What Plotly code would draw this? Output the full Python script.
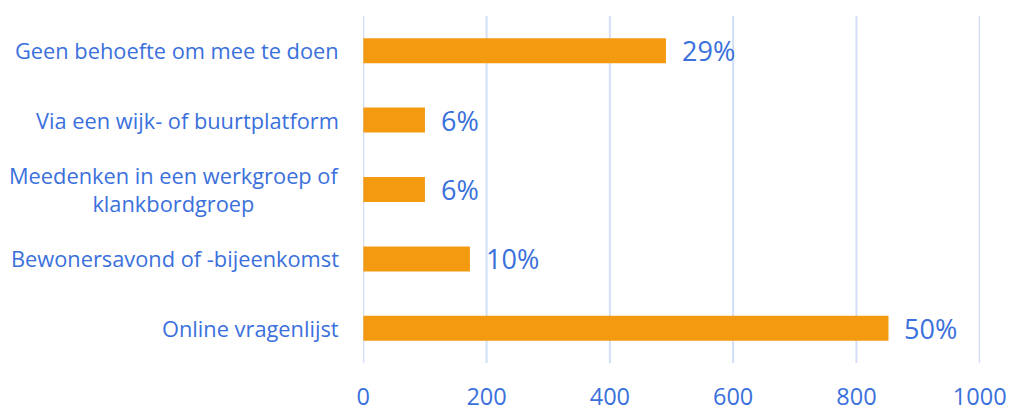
import plotly.graph_objects as go

categories = [
    "Online vragenlijst",
    "Bewonersavond of -bijeenkomst",
    "Meedenken in een werkgroep of<br>klankbordgroep",
    "Via een wijk- of buurtplatform",
    "Geen behoefte om mee te doen",
]
values = [852, 173, 100, 100, 491]
pct_labels = ["50%", "10%", "6%", "6%", "29%"]
x_ticks = [0, 200, 400, 600, 800, 1000]

BLUE = "#3A70DC"
ORANGE = "#F39A11"
GRID = "#D3DFF6"

fig = go.Figure()
fig.add_trace(go.Bar(
    x=values, y=categories, orientation="h",
    marker=dict(color=ORANGE, line=dict(width=0)),
    width=0.36,
    hoverinfo="skip",
))

for xv in x_ticks:
    fig.add_vline(x=xv, line=dict(color=GRID, width=2), layer="below")

for c, v, t in zip(categories, values, pct_labels):
    fig.add_annotation(x=v, y=c, text=t, xanchor="left", yanchor="middle",
                       xshift=14, showarrow=False,
                       font=dict(family="Open Sans", size=27, color=BLUE))
    fig.add_annotation(x=0, y=c, text=c, xanchor="right", yanchor="middle",
                       xshift=-22, showarrow=False, align="center",
                       font=dict(family="Open Sans", size=21.8, color=BLUE))

fig.update_layout(
    width=1014, height=412,
    margin=dict(l=363, r=34, t=16, b=49),
    paper_bgcolor="white", plot_bgcolor="white",
    showlegend=False,
    xaxis=dict(range=[-0.5, 1000.5], tickvals=x_ticks, showgrid=False,
               zeroline=False, ticks="", automargin=False,
               ticklabelstandoff=17,
               tickfont=dict(family="Open Sans", size=23.5, color=BLUE)),
    yaxis=dict(showticklabels=False, showgrid=False, zeroline=False,
               range=[-0.5, 4.5], automargin=False),
)

fig.write_html(
    "out.html",
    config={"displayModeBar": False},
    post_script="document.body.style.margin='0';document.body.style.overflow='hidden';",
)
